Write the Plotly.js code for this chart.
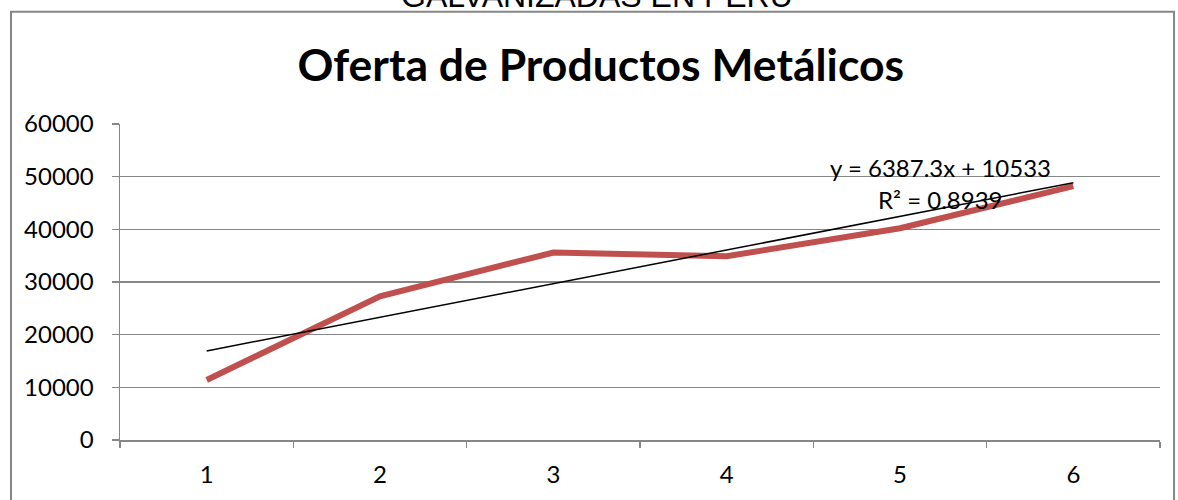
<!DOCTYPE html>
<html>
<head>
<meta charset="utf-8">
<script src="https://cdn.plot.ly/plotly-3.0.1.min.js"></script>
<style>
  html, body { margin: 0; padding: 0; background: #ffffff; }
  #chart { width: 1178px; height: 500px; }
</style>
</head>
<body>
<div id="chart"></div>
<script>
// Periods on the category axis
const periods = ['1', '2', '3', '4', '5', '6'];
// Supply of metal products per period
const supply = [11400, 27300, 35600, 34900, 40200, 48200];
// Linear trend fitted in the workbook (as printed on the chart)
const trendSlope = 6387.3;
const trendIntercept = 10533;
const trendR2 = 0.8939;

const trendX = [periods[0], periods[periods.length - 1]];
const trendY = trendX.map(p => trendSlope * Number(p) + trendIntercept);

const gray = '#868686';
const textFont = 'Lato, Calibri, "DejaVu Sans", sans-serif';

const traces = [
  {
    x: periods,
    y: supply,
    type: 'scatter',
    mode: 'lines',
    line: { color: '#C0504D', width: 6 },
    hoverinfo: 'x+y',
    showlegend: false
  },
  {
    x: trendX,
    y: trendY,
    type: 'scatter',
    mode: 'lines',
    line: { color: '#000000', width: 1.5 },
    hoverinfo: 'skip',
    showlegend: false
  }
];

const layout = {
  width: 1178,
  height: 500,
  margin: { l: 120, r: 18, t: 124, b: 60 },
  paper_bgcolor: '#ffffff',
  plot_bgcolor: '#ffffff',
  font: { family: textFont, size: 24, color: '#000000' },
  showlegend: false,
  xaxis: {
    type: 'category',
    categoryorder: 'array',
    categoryarray: periods,
    range: [-0.5, 5.5],
    tickson: 'boundaries',
    ticks: 'outside',
    ticklen: 6,
    tickwidth: 1.5,
    tickcolor: gray,
    showline: true,
    linecolor: gray,
    linewidth: 1.5,
    showgrid: false,
    zeroline: false,
    ticklabelstandoff: 13,
    tickfont: { family: textFont, size: 24, color: '#000000' }
  },
  yaxis: {
    range: [0, 60000],
    dtick: 10000,
    tick0: 0,
    tickformat: 'd',
    ticks: 'outside',
    ticklen: 7,
    tickwidth: 1.5,
    tickcolor: gray,
    showline: true,
    linecolor: gray,
    linewidth: 1.5,
    showgrid: true,
    gridcolor: gray,
    gridwidth: 1.5,
    zeroline: false,
    ticklabelstandoff: 13,
    tickfont: { family: textFont, size: 24, color: '#000000' }
  },
  title: {
    text: '<b>Oferta de Productos Metálicos</b>',
    font: { family: textFont, size: 44.5, color: '#000000' },
    x: 0.51,
    xanchor: 'center',
    y: 0.87,
    yanchor: 'middle'
  },
  annotations: [
    {
      text: 'GALVANIZADAS EN PERU',
      xref: 'paper', yref: 'paper',
      x: 0.459, y: 1.405,
      xanchor: 'center', yanchor: 'middle',
      showarrow: false,
      font: { family: '"Liberation Sans", Arial, sans-serif', size: 32, color: '#000000' }
    },
    {
      text: 'y = ' + trendSlope + 'x + ' + trendIntercept,
      xref: 'paper', yref: 'paper',
      x: 0.789, y: 0.862,
      xanchor: 'center', yanchor: 'middle',
      showarrow: false,
      font: { family: textFont, size: 24, color: '#000000' }
    },
    {
      text: 'R² = ' + trendR2,
      xref: 'paper', yref: 'paper',
      x: 0.789, y: 0.762,
      xanchor: 'center', yanchor: 'middle',
      showarrow: false,
      font: { family: textFont, size: 24, color: '#000000' }
    }
  ],
  shapes: [
    {
      type: 'rect',
      xref: 'paper', yref: 'paper',
      x0: -0.1048, x1: 1.0135,
      y0: -0.25, y1: 1.355,
      line: { color: gray, width: 2 },
      fillcolor: 'rgba(0,0,0,0)',
      layer: 'below'
    }
  ]
};

Plotly.newPlot('chart', traces, layout, { displayModeBar: false, staticPlot: true });
</script>
</body>
</html>
